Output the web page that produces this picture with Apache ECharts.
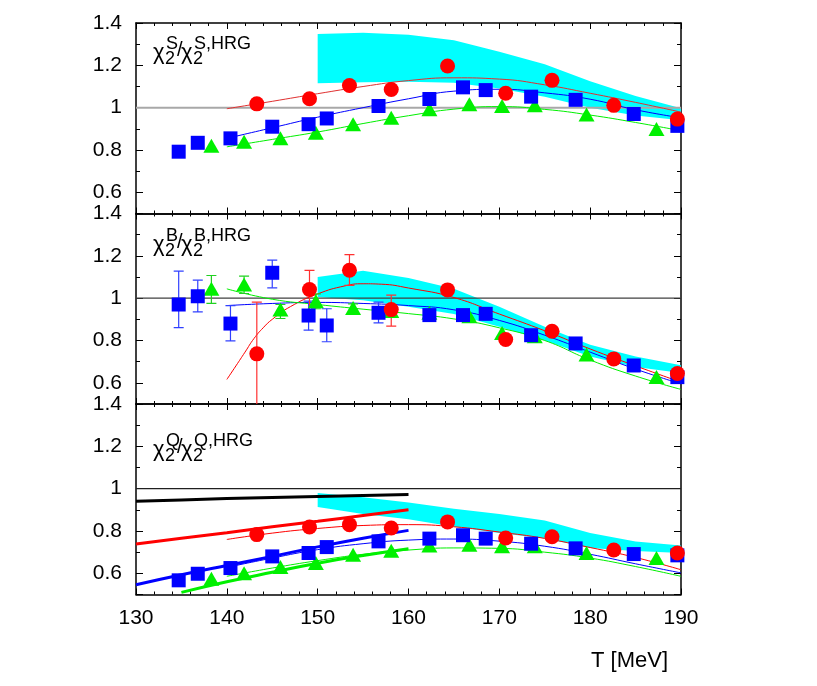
<!DOCTYPE html>
<html><head><meta charset="utf-8">
<script src="https://cdn.jsdelivr.net/npm/echarts@6/dist/echarts.min.js"></script>
<style>html,body{margin:0;padding:0;background:#fff}#c{width:817px;height:686px}</style>
</head><body><div id="c"></div>
<script>
// ---------- data ----------
const X_TICKS = [130, 140, 150, 160, 170, 180, 190];
const Y_TICK_LABELS = [0.6, 0.8, 1.0, 1.2, 1.4];

const T_BLUE  = [134.7, 136.8, 140.4, 145.0, 149.0, 151.0, 156.7, 162.3, 166.0, 168.5, 173.5, 178.4, 184.8, 189.6];
const T_RED   = [143.3, 149.1, 153.5, 158.1, 164.3, 170.7, 175.8, 182.6, 189.6];
const T_GREEN = [138.3, 141.9, 145.9, 149.8, 153.9, 158.1, 162.3, 166.7, 170.3, 173.9, 179.6, 187.3];

// panel 1 : strangeness
const S_BLUE  = [0.792, 0.834, 0.855, 0.910, 0.922, 0.949, 1.008, 1.041, 1.096, 1.083, 1.052, 1.037, 0.970, 0.914];
const S_RED   = [1.018, 1.042, 1.105, 1.086, 1.197, 1.068, 1.129, 1.011, 0.946];
const S_GREEN = [0.820, 0.839, 0.855, 0.881, 0.922, 0.952, 0.993, 1.016, 1.008, 1.012, 0.968, 0.899];

// panel 2 : baryon
const B_BLUE  = [0.970, 1.009, 0.880, 1.120, 0.918, 0.871, 0.931, 0.920, 0.920, 0.926, 0.825, 0.786, 0.682, 0.627];
const B_RED   = [0.737, 1.041, 1.132, 0.946, 1.039, 0.805, 0.844, 0.713, 0.644];
const B_GREEN = [1.044, 1.065, 0.946, 0.986, 0.954, 0.939, 0.931, 0.915, 0.836, 0.820, 0.734, 0.628];
const B_BLUE_LO  = [0.861, 0.935, 0.798, 1.049, 0.849, 0.794, 0.883, null, null, null, null, null, null, null];
const B_BLUE_HI  = [1.128, 1.085, 0.965, 1.180, 0.986, 0.950, 0.981, null, null, null, null, null, null, null];
const B_RED_LO   = [0.480, 0.946, 1.060, 0.868, null, null, null, null, null];
const B_RED_HI   = [0.981, 1.131, 1.206, 1.014, null, null, null, null, null];
const B_GREEN_LO = [0.975, 1.022, 0.904, 0.950, 0.926, null, null, null, null, null, null, null];
const B_GREEN_HI = [1.107, 1.104, 0.970, 1.020, 0.973, null, null, null, null, null, null, null];

// panel 3 : charge
const Q_BLUE  = [0.567, 0.598, 0.625, 0.680, 0.696, 0.724, 0.751, 0.764, 0.780, 0.764, 0.740, 0.718, 0.691, 0.685];
const Q_RED   = [0.783, 0.819, 0.830, 0.814, 0.843, 0.767, 0.773, 0.710, 0.696];
const Q_GREEN = [0.575, 0.600, 0.630, 0.649, 0.688, 0.707, 0.732, 0.735, 0.728, 0.728, 0.696, 0.672];

// thin fit curves
const FIT_T = [140, 145, 150, 155, 160, 165, 170, 175, 180, 185, 190];
const S_RED_FIT   = [0.995, 1.030, 1.066, 1.100, 1.128, 1.141, 1.135, 1.108, 1.068, 1.025, 0.979];
const S_BLUE_FIT  = [0.855, 0.905, 0.955, 1.000, 1.042, 1.078, 1.087, 1.070, 1.040, 0.990, 0.952];
const S_GREEN_FIT = [0.815, 0.850, 0.885, 0.925, 0.962, 0.993, 1.005, 0.992, 0.965, 0.930, 0.891];
const B_RED_FIT_T = [140, 141, 142, 143, 144, 145, 147, 150, 153, 155, 157, 160, 165, 170, 175, 180, 185, 190];
const B_RED_FIT   = [0.616, 0.680, 0.745, 0.810, 0.860, 0.900, 0.960, 1.020, 1.058, 1.068, 1.066, 1.048, 1.003, 0.925, 0.846, 0.760, 0.680, 0.603];
const B_BLUE_FIT  = [0.965, 0.975, 0.980, 0.975, 0.965, 0.945, 0.895, 0.825, 0.745, 0.665, 0.595];
const B_GREEN_FIT = [1.044, 0.995, 0.970, 0.948, 0.927, 0.902, 0.860, 0.800, 0.708, 0.632, 0.569];
const Q_RED_FIT   = [0.760, 0.790, 0.812, 0.826, 0.830, 0.820, 0.795, 0.765, 0.722, 0.675, 0.617];
const Q_BLUE_FIT  = [0.628, 0.672, 0.712, 0.740, 0.757, 0.762, 0.752, 0.728, 0.690, 0.645, 0.602];
const Q_GREEN_FIT = [0.586, 0.625, 0.660, 0.690, 0.710, 0.720, 0.718, 0.700, 0.672, 0.632, 0.586];

// thick curves (panel 3)
const THICK_T = [130, 135, 140, 145, 150, 155, 160];
const Q_BLACK_THICK = [0.940, 0.947, 0.953, 0.958, 0.963, 0.968, 0.972];
const Q_RED_THICK   = [0.739, 0.766, 0.792, 0.820, 0.846, 0.873, 0.900];
const Q_BLUE_THICK  = [0.546, 0.593, 0.637, 0.680, 0.725, 0.766, 0.803];
const Q_GREEN_THICK = [null, 0.510, 0.560, 0.605, 0.648, 0.684, 0.716];

// cyan bands
const BAND_T = [150, 155, 160, 165, 170, 175, 180, 185, 190];
const S_BAND_LO = [1.115, 1.120, 1.123, 1.118, 1.091, 1.052, 1.000, 0.963, 0.941];
const S_BAND_HI = [1.348, 1.354, 1.345, 1.318, 1.264, 1.205, 1.125, 1.055, 0.997];
const B_BAND_LO = [1.005, 0.990, 0.960, 0.925, 0.865, 0.800, 0.725, 0.675, 0.647];
const B_BAND_HI = [1.100, 1.130, 1.095, 1.045, 0.960, 0.865, 0.780, 0.725, 0.683];
const Q_BAND_LO = [0.913, 0.880, 0.855, 0.820, 0.790, 0.765, 0.720, 0.705, 0.696];
const Q_BAND_HI = [0.980, 0.960, 0.935, 0.905, 0.880, 0.850, 0.790, 0.750, 0.732];

const PANEL_SUP = ['S', 'B', 'Q'];

// ---------- layout / style ----------
const FONT = '"Liberation Sans", Arial, Helvetica, sans-serif';
const GL = 136, GW = 545, GH = 190.5;
const GTOPS = [23, 213.5, 404];
const RED = '#ff0000', BLUE = '#0000ff', GREEN = '#00f000', CYAN = '#00ffff';

const chart = echarts.init(document.getElementById('c'), null, {renderer: 'canvas'});

const grids = GTOPS.map(t => ({left: GL, top: t, width: GW, height: GH, containLabel: false}));
const xAxes = [], yAxes = [];
const axLine = {show: true, onZero: false, lineStyle: {color: '#000', width: 1.5}};
for (let g = 0; g < 3; g++) {
  ['bottom', 'top'].forEach(pos => {
    xAxes.push({
      gridIndex: g, type: 'value', min: X_TICKS[0], max: X_TICKS[X_TICKS.length - 1], interval: 10,
      position: pos, axisLine: axLine,
      axisTick: {show: true, inside: true, length: 6, lineStyle: {color: '#000', width: 1}},
      minorTick: {show: true, splitNumber: 5, length: 3, lineStyle: {color: '#000', width: 1}},
      splitLine: {show: false}, minorSplitLine: {show: false},
      axisLabel: {show: g === 2 && pos === 'bottom', color: '#000', fontSize: 21, fontFamily: FONT, margin: 13,
        formatter: v => X_TICKS.indexOf(v) >= 0 ? String(v) : ''}
    });
  });
  ['left', 'right'].forEach(pos => {
    yAxes.push({
      gridIndex: g, type: 'value', min: 0.5, max: 1.4, splitNumber: 5, position: pos,
      axisLine: axLine,
      axisTick: {show: true, inside: true, length: 7, lineStyle: {color: '#000', width: 1}},
      splitLine: {show: false},
      axisLabel: {show: pos === 'left', color: '#000', fontSize: 21, fontFamily: FONT, margin: 14,
        formatter: v => Y_TICK_LABELS.some(t => Math.abs(t - v) < 1e-6) ? String(Math.round(v * 10) / 10) : ''}
    });
    yAxes.push({
      gridIndex: g, type: 'value', min: 0.5, max: 1.4, interval: 0.1, position: pos,
      axisLine: {show: false}, axisLabel: {show: false}, splitLine: {show: false},
      axisTick: {show: true, inside: true, length: 4, lineStyle: {color: '#000', width: 1}}
    });
  });
}

function pts(T, V) {
  const out = [];
  T.forEach((t, i) => { if (V[i] != null) out.push([t, V[i]]); });
  return out;
}
function ax(g) { return {xAxisIndex: 2 * g, yAxisIndex: 4 * g}; }

const series = [];
function band(g, lo, hi) {
  series.push(Object.assign({type: 'custom', data: [[BAND_T[0], lo[0], hi[0]]], silent: true, z: 1, clip: true,
    renderItem: function (params, api) {
      const poly = [];
      BAND_T.forEach((t, i) => poly.push(api.coord([t, hi[i]])));
      for (let i = BAND_T.length - 1; i >= 0; i--) poly.push(api.coord([BAND_T[i], lo[i]]));
      return {type: 'polygon', shape: {points: poly}, style: {fill: CYAN, stroke: null}};
    }}, ax(g)));
}
function unity(g, color, width) {
  series.push(Object.assign({type: 'line', data: [[130, 1], [190, 1]], symbol: 'none',
    lineStyle: {color: color, width: width}, silent: true, z: 2}, ax(g)));
}
function curve(g, T, V, color, width) {
  series.push(Object.assign({type: 'line', data: pts(T, V), symbol: 'none', smooth: 0.5,
    lineStyle: {color: color, width: width}, silent: true, z: 3, clip: true}, ax(g)));
}
function errs(g, T, LO, HI, color) {
  const d = [];
  T.forEach((t, i) => { if (LO[i] != null) d.push([t, LO[i], HI[i]]); });
  series.push(Object.assign({type: 'custom', data: d, silent: true, z: 4, clip: true,
    renderItem: function (params, api) {
      const x = api.value(0);
      const a = api.coord([x, api.value(1)]), b = api.coord([x, api.value(2)]);
      const w = 5;
      const st = {stroke: color, lineWidth: 1.2};
      const ch = [
        {type: 'line', shape: {x1: a[0], y1: a[1], x2: b[0], y2: b[1]}, style: st},
        {type: 'line', shape: {x1: b[0] - w, y1: b[1], x2: b[0] + w, y2: b[1]}, style: st}
      ];
      if (api.value(1) > 0.5) ch.push({type: 'line', shape: {x1: a[0] - w, y1: a[1], x2: a[0] + w, y2: a[1]}, style: st});
      return {type: 'group', children: ch};
    }}, ax(g)));
}
function scat(g, T, V, symbol, size, color) {
  series.push(Object.assign({type: 'scatter', data: pts(T, V), symbol: symbol, symbolSize: size,
    itemStyle: {color: color, opacity: 1}, silent: true, z: 5}, ax(g)));
}

const TRI = [16, 14], SQ = 14, CIR = 15;
// panel 1
band(0, S_BAND_LO, S_BAND_HI);
unity(0, '#a8a8a8', 2);
curve(0, FIT_T, S_RED_FIT, '#e03030', 1);
curve(0, FIT_T, S_BLUE_FIT, BLUE, 1);
curve(0, FIT_T, S_GREEN_FIT, GREEN, 1);
scat(0, T_GREEN, S_GREEN, 'triangle', TRI, GREEN);
scat(0, T_BLUE, S_BLUE, 'rect', SQ, BLUE);
scat(0, T_RED, S_RED, 'circle', CIR, RED);

// panel 2
band(1, B_BAND_LO, B_BAND_HI);
unity(1, '#404040', 1.3);
curve(1, B_RED_FIT_T, B_RED_FIT, RED, 1);
curve(1, FIT_T, B_BLUE_FIT, BLUE, 1);
curve(1, FIT_T, B_GREEN_FIT, GREEN, 1);
errs(1, T_BLUE, B_BLUE_LO, B_BLUE_HI, '#3040ff');
errs(1, T_GREEN, B_GREEN_LO, B_GREEN_HI, '#20d020');
errs(1, T_RED, B_RED_LO, B_RED_HI, '#ff3030');
scat(1, T_GREEN, B_GREEN, 'triangle', TRI, GREEN);
scat(1, T_BLUE, B_BLUE, 'rect', SQ, BLUE);
scat(1, T_RED, B_RED, 'circle', CIR, RED);

// panel 3
band(2, Q_BAND_LO, Q_BAND_HI);
unity(2, '#202020', 1.3);
curve(2, THICK_T, Q_BLACK_THICK, '#000', 3);
curve(2, THICK_T, Q_RED_THICK, RED, 3);
curve(2, THICK_T, Q_BLUE_THICK, BLUE, 3);
curve(2, THICK_T, Q_GREEN_THICK, GREEN, 3);
curve(2, FIT_T, Q_RED_FIT, RED, 1);
curve(2, FIT_T, Q_BLUE_FIT, BLUE, 1);
curve(2, FIT_T, Q_GREEN_FIT, GREEN, 1);
scat(2, T_GREEN, Q_GREEN, 'triangle', TRI, GREEN);
scat(2, T_BLUE, Q_BLUE, 'rect', SQ, BLUE);
scat(2, T_RED, Q_RED, 'circle', CIR, RED);

// panel labels chi_2^X / chi_2^{X,HRG}
function txt(x, y, s, size) {
  return {type: 'text', x: x, y: y, silent: true, z: 10,
    style: {text: s, font: size + 'px ' + FONT, fill: '#000', align: 'left', verticalAlign: 'middle',
      textAlign: 'left', textVerticalAlign: 'middle'}};
}
const graphics = [];
const LABEL_DY = [0, 192, 397];
for (let g = 0; g < 3; g++) {
  const dy = LABEL_DY[g], s = PANEL_SUP[g];
  graphics.push(txt(153, 53 + dy, 'χ', 22));
  graphics.push(txt(165, 59.5 + dy, '2', 18));
  graphics.push(txt(166, 44.5 + dy, s, 18));
  graphics.push(txt(177, 50 + dy, '/', 20));
  graphics.push(txt(181, 53 + dy, 'χ', 22));
  graphics.push(txt(193, 59.5 + dy, '2', 18));
  graphics.push(txt(194, 44.5 + dy, s + ',HRG', 18));
}
graphics.push({type: 'text', x: 668, y: 661, silent: true,
  style: {text: 'T [MeV]', font: '22px ' + FONT, fill: '#000', align: 'right', verticalAlign: 'middle',
    textAlign: 'right', textVerticalAlign: 'middle'}});

chart.setOption({
  backgroundColor: '#fff',
  animation: false,
  grid: grids,
  xAxis: xAxes,
  yAxis: yAxes,
  series: series,
  graphic: graphics
});
</script></body></html>
